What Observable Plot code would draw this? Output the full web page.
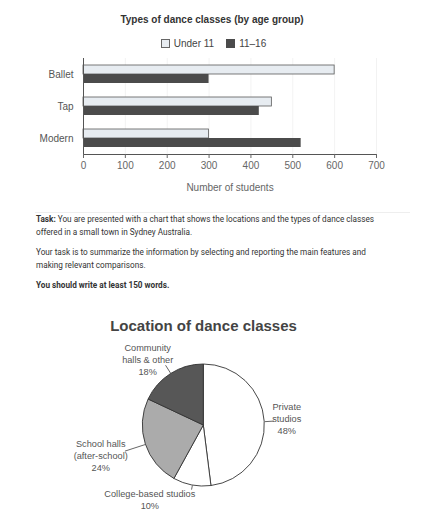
<!DOCTYPE html>
<html>
<head>
<meta charset="utf-8">
<script src="https://cdn.jsdelivr.net/npm/d3@7"></script>
<script src="https://cdn.jsdelivr.net/npm/@observablehq/plot@0.6"></script>
<style>
  html, body { margin: 0; padding: 0; }
  body { width: 439px; height: 512px; position: relative; background: #fff; overflow: hidden;
         font-family: "Liberation Sans", Arial, sans-serif; }
  .abs { position: absolute; }
  #barTitle { left: 0; width: 424px; top: 14px; line-height: 12px; text-align: center;
              font-weight: bold; font-size: 10px; color: #333; }
  #legend { left: 0; width: 427px; top: 37px; height: 12px; display: flex; justify-content: center;
            align-items: center; font-size: 10px; color: #444; }
  #legend .item { display: flex; align-items: center; }
  #legend .sw { width: 9px; height: 9px; box-sizing: border-box; margin-right: 4px; }
  #legend .item + .item { margin-left: 12px; }
  #barChart { left: 0; top: 50px; }
  #divider { left: 35px; top: 212px; width: 375px; height: 1px; background: #eeeeee; }
  #task { left: 36px; top: 213px; font-family: Roboto, "Liberation Sans", sans-serif; font-size: 8.2px;
          line-height: 13px; color: #333; }
  #task p { margin: 0 0 7px 0; white-space: nowrap; }
  #pieTitle { left: 0; width: 407px; top: 317px; line-height: 18px; text-align: center;
              font-weight: bold; font-size: 15px; color: #444; }
  #pieChart { left: 0; top: 335px; }
</style>
</head>
<body>
<div id="barTitle" class="abs">Types of dance classes (by age group)</div>
<div id="legend" class="abs"></div>
<div id="barChart" class="abs"></div>
<div id="divider" class="abs"></div>
<div id="task" class="abs">
  <p><b>Task:</b> You are presented with a chart that shows the locations and the types of dance classes<br>offered in a small town in Sydney Australia.</p>
  <p>Your task is to summarize the information by selecting and reporting the main features and<br>making relevant comparisons.</p>
  <p><b>You should write at least 150 words.</b></p>
</div>
<div id="pieTitle" class="abs">Location of dance classes</div>
<div id="pieChart" class="abs"></div>
<script>
// ---- data ----
const categories = ["Ballet", "Tap", "Modern"];
const groups = ["Under 11", "11–16"];
const under11 = [600, 450, 300];
const age11to16 = [300, 420, 520];
const xTicks = [0, 100, 200, 300, 400, 500, 600, 700];

const locations = ["Private studios", "College-based studios", "School halls (after-school)", "Community halls & other"];
const locationShares = [48, 10, 24, 18];
const locationLabelLines = [["Private", "studios"], ["College-based studios"], ["School halls", "(after-school)"], ["Community", "halls & other"]];

// ---- layout / style (not data) ----
const groupColors = ["#e7ecf1", "#4b4b4b"];
const pieFill = ["#ffffff", "#ffffff", "#ababab", "#575757"];
const labelPos = [[1.36, 0.12], [-0.885, -1.21], [-1.69, -0.48], [-0.92, 1.09]];
const leaderOuter = [1.15, 1.07, 1.36, 1.17];
const fontFamily = "'Liberation Sans', Arial, sans-serif";

// ---- bar chart ----
const barData = categories.flatMap((type, i) => [
  {type, group: groups[0], value: under11[i]},
  {type, group: groups[1], value: age11to16[i]}
]);

const bar = Plot.plot({
  width: 439, height: 150,
  marginLeft: 83, marginRight: 63, marginTop: 7, marginBottom: 45,
  style: {fontFamily, fontSize: "10px", color: "#555", background: "transparent", overflow: "visible"},
  x: {domain: [0, 700]},
  y: {domain: groups, paddingInner: 0, paddingOuter: 0.75, axis: null},
  fy: {domain: categories, padding: 0},
  color: {domain: groups, range: groupColors},
  marks: [
    Plot.gridX(xTicks, {stroke: "#000", strokeOpacity: 0.05}),
    Plot.barX(barData.filter(d => d.group === groups[0]), {x: "value", y: "group", fy: "type", fill: "group", stroke: "#5a5a5a", strokeWidth: 0.8}),
    Plot.barX(barData.filter(d => d.group === groups[1]), {x: "value", y: "group", fy: "type", fill: "group"}),
    Plot.ruleX([0], {stroke: "#555"}),
    Plot.frame({anchor: "bottom", facetAnchor: "bottom", stroke: "#555"}),
    Plot.axisX(xTicks, {tickSize: 4, tickPadding: 3, color: "#666", fontSize: 10,
      label: "Number of students", labelAnchor: "center", labelOffset: 36, labelArrow: "none"}),
    Plot.axisFy({anchor: "left", tickSize: 0, tickPadding: 10, label: null, color: "#555", fontSize: 10})
  ]
});
document.getElementById("barChart").append(bar);

// legend from the plot's color scale
const colorScale = bar.scale("color");
const legend = d3.select("#legend");
colorScale.domain.forEach((g, i) => {
  const item = legend.append("div").attr("class", "item");
  item.append("div").attr("class", "sw")
    .style("background", colorScale.range[i])
    .style("border", i === 0 ? "1px solid #666" : "none");
  item.append("span").text(g);
});

// ---- pie chart ----
const pieArcs = d3.pie().sort(null)(locationShares);
const pieData = pieArcs.map((a, i) => ({
  name: locations[i], share: locationShares[i],
  start: a.startAngle, end: a.endAngle, mid: (a.startAngle + a.endAngle) / 2,
  lines: locationLabelLines[i]
}));

function pieSlices(index, scales) {
  const cx = scales.x(0), cy = scales.y(0), r = scales.x(1) - scales.x(0);
  const arc = d3.arc().innerRadius(0).outerRadius(r);
  const g = d3.create("svg:g").attr("transform", `translate(${cx},${cy})`);
  g.selectAll("path").data(pieData).join("path")
    .attr("d", d => arc({startAngle: d.start, endAngle: d.end}))
    .attr("fill", (d, i) => pieFill[i])
    .attr("stroke", "#333")
    .attr("stroke-width", 0.9);
  return g.node();
}

const pie = Plot.plot({
  width: 439, height: 177,
  marginLeft: 142.3, marginRight: 174.7, marginTop: 29, marginBottom: 26,
  style: {fontFamily, fontSize: "9.2px", color: "#555", background: "transparent", overflow: "visible"},
  x: {domain: [-1, 1], axis: null},
  y: {domain: [-1, 1], axis: null},
  marks: [
    pieSlices,
    Plot.link(pieData, {
      x1: d => Math.sin(d.mid), y1: d => Math.cos(d.mid),
      x2: (d, i) => leaderOuter[i] * Math.sin(d.mid), y2: (d, i) => leaderOuter[i] * Math.cos(d.mid),
      stroke: "#555", strokeWidth: 0.9
    }),
    Plot.text(pieData, {
      x: (d, i) => labelPos[i][0], y: (d, i) => labelPos[i][1],
      text: d => [...d.lines, d.share + "%"].join("\n"),
      fontSize: 9.2, lineHeight: 1.3, fill: "#555", textAnchor: "middle"
    })
  ]
});
document.getElementById("pieChart").append(pie);
</script>
</body>
</html>
